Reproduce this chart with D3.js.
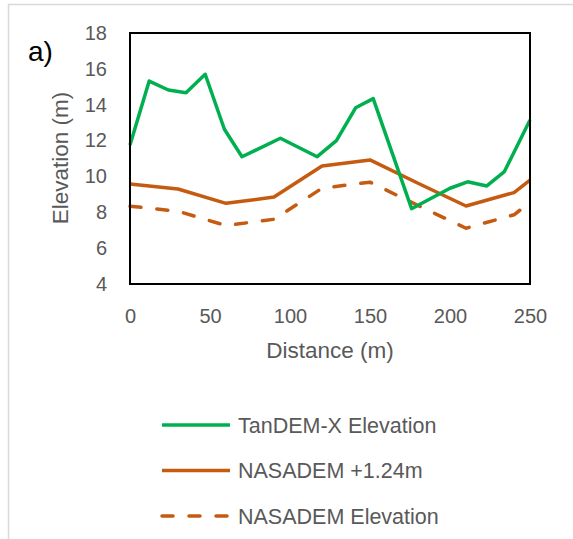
<!DOCTYPE html>
<html><head><meta charset="utf-8">
<script src="https://cdn.jsdelivr.net/npm/d3@7"></script>
<style>body{margin:0;background:#fff}svg{display:block}</style>
</head><body>
<script>
// Data
const tandemX = [0,12,24,35,47,59,70,94,117,129,141,152,176,200,211,223,234,250];
const tandemY = [11.75,15.32,14.82,14.67,15.7,12.63,11.1,12.13,11.1,12.0,13.83,14.34,8.2,9.34,9.7,9.47,10.27,13.15];
const nasaX = [0,30,60,90,120,150,180,210,240,250];
const nasaAdjY = [9.58,9.3,8.5,8.85,10.58,10.92,9.62,8.35,9.1,9.8];
const nasaY = [8.34,8.06,7.26,7.61,9.34,9.68,8.38,7.11,7.86,8.56];
const xTicks = [0,50,100,150,200,250];
const yTicks = [4,6,8,10,12,14,16,18];
const seriesNames = ["TanDEM-X Elevation","NASADEM +1.24m","NASADEM Elevation"];

const W=573,H=539;
const svg=d3.select("body").append("svg").attr("width",W).attr("height",H);
const font="'Liberation Sans', Arial, sans-serif";
const grey="#595959";
const green="#00B050", orange="#C55A11";

// outer border
svg.append("path").attr("d",`M8.5,${H} V4.5 H${W}`).attr("fill","none").attr("stroke","#d9d9d9").attr("stroke-width",1.5);

const x=d3.scaleLinear().domain([0,250]).range([130,530]);
const y=d3.scaleLinear().domain([4,18]).range([284,33]);

const line=d3.line().x(d=>x(d[0])).y(d=>y(d[1]));
const plot=svg.append("g");
function draw(xs,ys,color,dash){
  plot.append("path").datum(xs.map((v,i)=>[v,ys[i]])).attr("d",line)
    .attr("fill","none").attr("stroke",color).attr("stroke-width",3.5)
    .attr("stroke-linejoin","round").attr("stroke-linecap",dash?"round":"butt")
    .attr("stroke-dasharray",dash||null);
}
draw(nasaX,nasaY,orange,"11,16");
draw(nasaX,nasaAdjY,orange,null);
draw(tandemX,tandemY,green,null);

// plot box
svg.append("rect").attr("x",x(0)).attr("y",y(18)).attr("width",x(250)-x(0)).attr("height",y(4)-y(18))
  .attr("fill","none").attr("stroke","#000").attr("stroke-width",2);

// axes (labels only)
const xa=svg.append("g").attr("transform",`translate(0,${y(4)})`)
  .call(d3.axisBottom(x).tickValues(xTicks).tickSize(0).tickPadding(25));
xa.select(".domain").remove();
xa.selectAll("text").attr("font-family",font).attr("font-size",20).attr("fill",grey);
const ya=svg.append("g").attr("transform",`translate(${x(0)},0)`)
  .call(d3.axisLeft(y).tickValues(yTicks).tickSize(0).tickPadding(23));
ya.select(".domain").remove();
ya.selectAll("text").attr("font-family",font).attr("font-size",20).attr("fill",grey);

svg.append("text").attr("x",330).attr("y",350).attr("dy","0.35em").attr("text-anchor","middle")
  .attr("font-family",font).attr("font-size",22.5).attr("fill",grey).text("Distance (m)");
svg.append("text").attr("transform","translate(60,158) rotate(-90)").attr("dy","0.35em").attr("text-anchor","middle")
  .attr("font-family",font).attr("font-size",22.5).attr("fill",grey).text("Elevation (m)");
svg.append("text").attr("x",28).attr("y",51).attr("dy","0.35em")
  .attr("font-family",font).attr("font-size",28).attr("fill","#000").text("a)");

// legend
const legY=[425,470.5,516];
const legColors=[green,orange,orange];
const legDash=[null,null,"11,16"];
seriesNames.forEach((n,i)=>{
  svg.append("line").attr("x1",162).attr("x2",230).attr("y1",legY[i]).attr("y2",legY[i])
    .attr("stroke",legColors[i]).attr("stroke-width",3.5)
    .attr("stroke-linecap",legDash[i]?"round":"butt").attr("stroke-dasharray",legDash[i]);
  svg.append("text").attr("x",238).attr("y",legY[i]).attr("dy","0.35em")
    .attr("font-family",font).attr("font-size",21.5).attr("fill",grey).text(n);
});
</script>
</body></html>
